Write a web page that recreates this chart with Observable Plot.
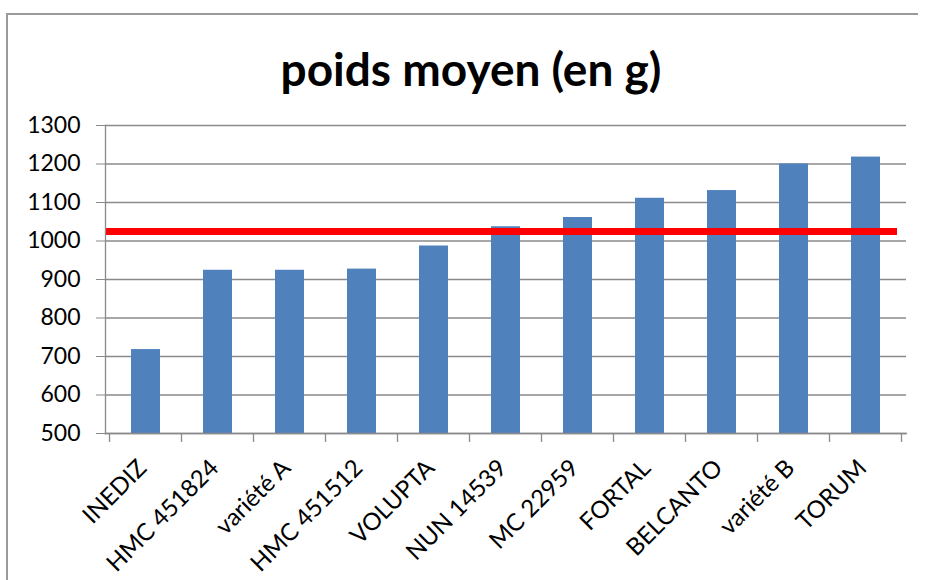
<!DOCTYPE html>
<html><head><meta charset="utf-8">
<script src="https://cdn.jsdelivr.net/npm/d3@7"></script>
<script src="https://cdn.jsdelivr.net/npm/@observablehq/plot@0.6"></script>
<style>
html,body{margin:0;padding:0;background:#fff;overflow:hidden;}
#wrap{position:relative;width:926px;height:580px;overflow:hidden;font-family:Lato,sans-serif;}
#chart{position:absolute;left:0;top:105px;}
#title{position:absolute;left:200px;top:46px;width:542px;text-align:center;font-family:Lato,sans-serif;font-weight:bold;font-size:46px;line-height:1;color:#000;white-space:nowrap;}
#frameTop{position:absolute;left:6px;top:13px;width:912px;height:2px;background:#9a9a9a;}
#frameLeft{position:absolute;left:6px;top:13px;width:2px;height:567px;background:#9a9a9a;}
</style></head>
<body>
<div id="wrap">
  <div id="chart"></div>
  <div id="title">poids moyen (en g)</div>
  <div id="frameTop"></div>
  <div id="frameLeft"></div>
</div>
<script>
const categories = ["INEDIZ","HMC 451824","variété A","HMC 451512","VOLUPTA","NUN 14539","MC 22959","FORTAL","BELCANTO","variété B","TORUM"];
const poids = [718, 924, 924, 927, 987, 1037, 1061, 1111, 1131, 1200, 1218];
const moyenne = 1025;
const yDomain = [500, 1300];
const yTicks = [500, 600, 700, 800, 900, 1000, 1100, 1200, 1300];

const data = categories.map((c, i) => ({variete: c, poids: poids[i]}));
const gray = "#8a8a8a";

function boundaryTicks(index, scales, values, dimensions) {
  const x = scales.x;
  const bw = typeof x.bandwidth === "function" ? x.bandwidth()
    : ((scales.scales && scales.scales.x && scales.scales.x.bandwidth) || 0);
  const centers = categories.map(c => x(c) + bw / 2);
  const step = centers[1] - centers[0];
  const edges = centers.map(c => c - step / 2).concat([centers[centers.length - 1] + step / 2]);
  const y0 = dimensions.height - dimensions.marginBottom;
  const g = d3.create("svg:g");
  g.selectAll("line").data(edges).join("line")
    .attr("x1", d => d).attr("x2", d => d)
    .attr("y1", y0).attr("y2", y0 + 9)
    .attr("stroke", gray).attr("stroke-width", 1.3);
  return g.node();
}

const chart = Plot.plot({
  width: 926,
  height: 475,
  marginTop: 20,
  marginLeft: 105,
  marginRight: 20,
  marginBottom: 147,
  style: {fontFamily: "Lato, sans-serif", fontSize: "23px", color: "#000", background: "transparent"},
  x: {domain: categories, paddingInner: 0.6, paddingOuter: 0.3, axis: null},
  y: {domain: yDomain},
  marks: [
    Plot.gridY(yTicks, {stroke: gray, strokeOpacity: 1, strokeWidth: 1.3}),
    Plot.barY(data, {x: "variete", y1: () => yDomain[0], y2: "poids", fill: "#4F81BD"}),
    Plot.ruleY([moyenne], {stroke: "#FF0000", strokeWidth: 7, insetRight: 9}),
    Plot.frame({anchor: "left", stroke: gray, strokeWidth: 1.3}),
    Plot.frame({anchor: "bottom", stroke: gray, strokeWidth: 1.3}),
    boundaryTicks,
    Plot.axisY({ticks: yTicks, tickSize: 9, tickPadding: 16, fontSize: 23, stroke: gray, fill: "#000", label: null, tickFormat: d => String(d)}),
    Plot.text(categories, {x: d => d, frameAnchor: "bottom", rotate: -45, textAnchor: "end", lineAnchor: "bottom", dx: 2, dy: 36, fontSize: 24, fill: "#000"})
  ]
});
document.getElementById("chart").appendChild(chart);
</script>
</body></html>
